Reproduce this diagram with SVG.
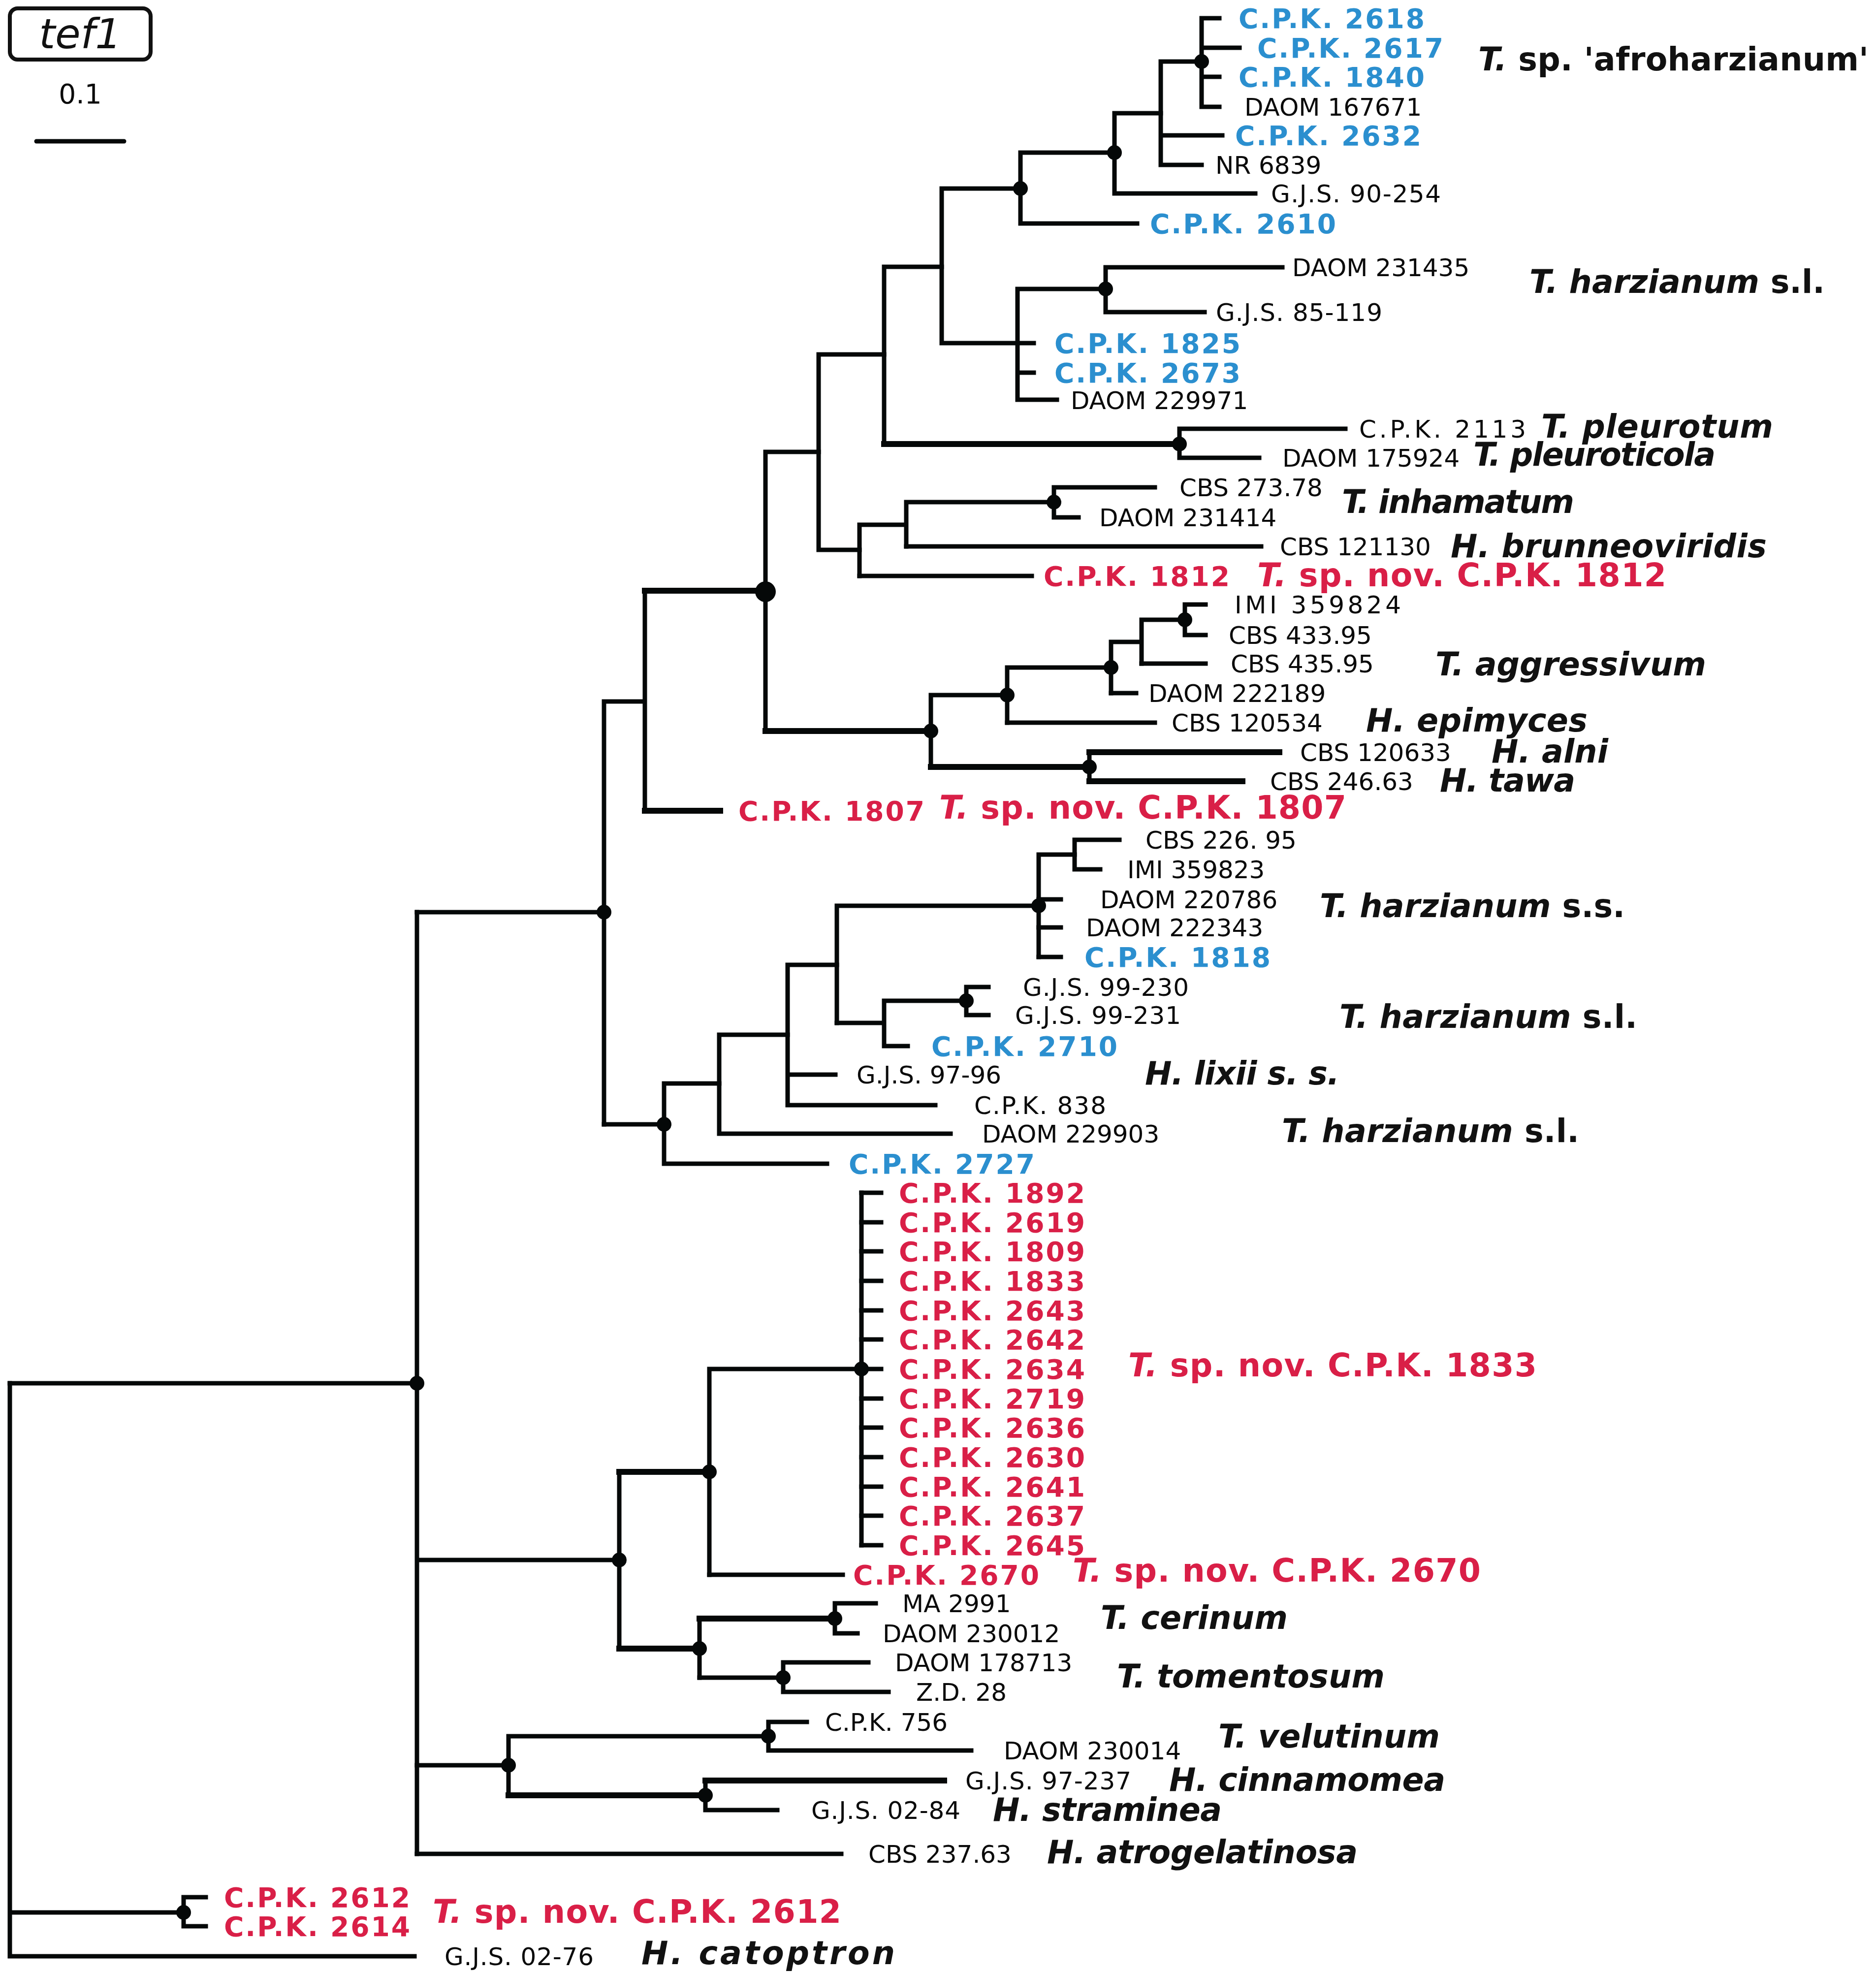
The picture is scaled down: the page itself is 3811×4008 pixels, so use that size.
<svg xmlns="http://www.w3.org/2000/svg" width="3811" height="4008" viewBox="0 0 3811 4008">
<style>
.l{fill:none;stroke:#050808;stroke-width:9;stroke-linecap:square}
.k{stroke-width:12}
.d{fill:#050808}
.n{font-family:"DejaVu Sans",Verdana,sans-serif;font-size:50px;fill:#0a0a0a}
.b{font-family:"DejaVu Sans",Verdana,sans-serif;font-size:55px;font-weight:bold;letter-spacing:3px}
.bl{fill:#2b8fcf}
.rd{fill:#d91f47}
.s{font-family:"DejaVu Sans",Verdana,sans-serif;font-size:65px;font-weight:bold;font-style:italic;fill:#111}
.u{font-style:normal}
.sr{fill:#d91f47}
</style>
<rect width="3811" height="4008" fill="#fff"/>
<g id="legend">
<rect x="20" y="17" width="286" height="104" rx="16" fill="none" stroke="#111" stroke-width="8"/>
<text x="163" y="98" text-anchor="middle" font-family="DejaVu Sans,sans-serif" font-style="italic" font-size="84" fill="#111">tef1</text>
<text x="163" y="210" text-anchor="middle" class="n" style="font-size:55px">0.1</text>
<path d="M74 287 H252" stroke="#050808" stroke-width="9" stroke-linecap="round"/>
</g>
<g id="connectors" class="l">
<path d="M2441 37 V217 M2441 37 H2477 M2441 97 H2518 M2441 156 H2477 M2441 217 H2477"/>
<path d="M2358 125 H2441 M2358 125 V335 M2358 275 H2483 M2358 335 H2441"/>
<path d="M2264 230 H2358 M2264 230 V393 M2264 393 H2550"/>
<path d="M2073 310 H2264 M2073 310 V454 M2073 454 H2310"/>
<path d="M1913 383 H2073 M1913 383 V697 M1913 697 H2100"/>
<path d="M2067 587 V812 M2067 587 H2246 M2246 543 V634 M2246 543 H2605 M2246 634 H2447 M2067 757 H2100 M2067 812 H2147"/>
<path d="M1796 542 H1913 M1796 542 V902"/>
<path class="k" d="M1796 902 H2396"/>
<path d="M2396 871 V930 M2396 871 H2733 M2396 930 H2558"/>
<path d="M1663 720 H1796 M1663 720 V1117 M1663 1117 H1746"/>
<path d="M1746 1066 V1170 M1746 1066 H1841 M1841 1020 V1110 M1841 1020 H2141"/>
<path d="M2141 990 V1051 M2141 990 H2346 M2141 1051 H2191 M1841 1110 H2562 M1746 1170 H2096"/>
<path d="M1555 918 H1663 M1555 918 V1485"/>
<path class="k" d="M1555 1485 H1891"/>
<path d="M1891 1412 V1558 M1891 1412 H2046 M2046 1356 V1468 M2046 1356 H2257"/>
<path d="M2257 1304 V1408 M2257 1304 H2319 M2319 1259 V1348 M2319 1259 H2407"/>
<path d="M2407 1228 V1290 M2407 1228 H2449 M2407 1290 H2449 M2319 1348 H2449 M2257 1408 H2308 M2046 1468 H2346"/>
<path class="k" d="M1891 1558 H2213 M2213 1528 H2599 M2213 1587 H2524"/>
<path d="M2213 1528 V1587"/>
<path class="k" d="M1310 1200 H1555 M1310 1647 H1463"/>
<path d="M1310 1200 V1647 M1227 1425 H1310 M1227 1425 V2284 M847 1853 H1227"/>
<path d="M1227 2284 H1349 M1349 2201 V2364 M1349 2364 H1680 M1349 2201 H1461"/>
<path d="M1461 2102 V2303 M1461 2303 H1931 M1461 2102 H1600"/>
<path d="M1600 1960 V2245 M1600 2245 H1900 M1600 2183 H1697 M1600 1960 H1700"/>
<path d="M1700 1840 V2078 M1700 1840 H2110 M2110 1736 V1944 M2110 1736 H2183"/>
<path d="M2183 1706 V1766 M2183 1706 H2274 M2183 1766 H2235 M2110 1827 H2155 M2110 1884 H2155 M2110 1944 H2155"/>
<path d="M1700 2078 H1796 M1796 2033 V2125 M1796 2033 H1963 M1963 2005 V2062 M1963 2005 H2008 M1963 2062 H2008 M1796 2125 H1844"/>
<path d="M847 1853 V3766 M20 2810 H847 M847 3169 H1258"/>
<path d="M1258 2990 V3349"/>
<path class="k" d="M1258 2990 H1441"/>
<path d="M1441 2781 V3199 M1441 2781 H1750 M1750 2423 V3139"/>
<path d="M1750 2423 H1790 M1750 2483 H1790 M1750 2542 H1790 M1750 2602 H1790 M1750 2662 H1790 M1750 2721 H1790 M1750 2781 H1790 M1750 2841 H1790 M1750 2900 H1790 M1750 2960 H1790 M1750 3020 H1790 M1750 3079 H1790 M1750 3139 H1790"/>
<path d="M1441 3199 H1712"/>
<path class="k" d="M1258 3349 H1421 M1421 3288 H1696"/>
<path d="M1421 3288 V3408 M1696 3257 V3318 M1696 3257 H1779 M1696 3318 H1742"/>
<path d="M1421 3408 H1591 M1591 3377 V3437 M1591 3377 H1764 M1591 3437 H1805"/>
<path d="M847 3586 H1033 M1033 3527 V3647 M1033 3527 H1561"/>
<path d="M1561 3498 V3556 M1561 3498 H1639 M1561 3556 H1973"/>
<path class="k" d="M1033 3647 H1433 M1433 3617 H1918"/>
<path d="M1433 3617 V3677 M1433 3677 H1579"/>
<path d="M847 3766 H1709"/>
<path d="M20 2810 V3974 M20 3885 H373 M373 3854 V3913 M373 3854 H418 M373 3913 H418 M20 3974 H842"/>
</g>
<g id="internal-nodes" class="d">
<circle id="n1" cx="2441" cy="125" r="15"/>
<circle id="n2" cx="2264" cy="310" r="15"/>
<circle id="n3" cx="2073" cy="383" r="15"/>
<circle id="n4" cx="2246" cy="587" r="15"/>
<circle id="n5" cx="2396" cy="902" r="15"/>
<circle id="n6" cx="2141" cy="1020" r="15"/>
<circle id="n7" cx="1555" cy="1202" r="21"/>
<circle id="n8" cx="2407" cy="1259" r="15"/>
<circle id="n9" cx="2257" cy="1356" r="15"/>
<circle id="n10" cx="2046" cy="1412" r="15"/>
<circle id="n11" cx="1891" cy="1485" r="15"/>
<circle id="n12" cx="2213" cy="1558" r="15"/>
<circle id="n13" cx="1227" cy="1853" r="15"/>
<circle id="n14" cx="2110" cy="1840" r="15"/>
<circle id="n15" cx="1963" cy="2033" r="15"/>
<circle id="n16" cx="1349" cy="2284" r="15"/>
<circle id="n17" cx="1750" cy="2781" r="15"/>
<circle id="n18" cx="1441" cy="2990" r="15"/>
<circle id="n19" cx="1258" cy="3169" r="15"/>
<circle id="n20" cx="1421" cy="3349" r="15"/>
<circle id="n21" cx="1696" cy="3288" r="15"/>
<circle id="n22" cx="1591" cy="3408" r="15"/>
<circle id="n23" cx="1033" cy="3586" r="15"/>
<circle id="n24" cx="1561" cy="3527" r="15"/>
<circle id="n25" cx="1433" cy="3647" r="15"/>
<circle id="n26" cx="847" cy="2810" r="15"/>
<circle id="n27" cx="373" cy="3885" r="15"/>
</g>
<g id="taxa">
<g id="t2618"><text class="b bl" x="2516" y="57">C.P.K. 2618</text></g>
<g id="t2617"><text class="b bl" x="2554" y="117">C.P.K. 2617</text></g>
<g id="t1840"><text class="b bl" x="2516" y="176">C.P.K. 1840</text></g>
<g id="tD167671"><text class="n" x="2528" y="235">DAOM 167671</text></g>
<g id="t2632"><text class="b bl" x="2509" y="295">C.P.K. 2632</text></g>
<g id="tNR6839"><text class="n" x="2469" y="353">NR 6839</text></g>
<g id="tG90254"><text class="n" x="2582" y="411" textLength="345">G.J.S. 90-254</text></g>
<g id="t2610"><text class="b bl" x="2336" y="474">C.P.K. 2610</text></g>
<g id="tD231435"><text class="n" x="2625" y="561">DAOM 231435</text></g>
<g id="tG85119"><text class="n" x="2470" y="652" textLength="338">G.J.S. 85-119</text></g>
<g id="t1825"><text class="b bl" x="2142" y="717">C.P.K. 1825</text></g>
<g id="t2673"><text class="b bl" x="2142" y="777">C.P.K. 2673</text></g>
<g id="tD229971"><text class="n" x="2175" y="831">DAOM 229971</text></g>
<g id="t2113"><text class="n" x="2761" y="889" textLength="339">C.P.K. 2113</text></g>
<g id="tD175924"><text class="n" x="2605" y="948">DAOM 175924</text></g>
<g id="tC27378"><text class="n" x="2396" y="1008">CBS 273.78</text></g>
<g id="tD231414"><text class="n" x="2233" y="1069">DAOM 231414</text></g>
<g id="tC121130"><text class="n" x="2600" y="1128">CBS 121130</text></g>
<g id="t1812"><text class="b rd" x="2120" y="1190">C.P.K. 1812</text></g>
<g id="tI359824"><text class="n" x="2508" y="1246" textLength="338">IMI 359824</text></g>
<g id="tC43395"><text class="n" x="2496" y="1308">CBS 433.95</text></g>
<g id="tC43595"><text class="n" x="2500" y="1366">CBS 435.95</text></g>
<g id="tD222189"><text class="n" x="2333" y="1426">DAOM 222189</text></g>
<g id="tC120534"><text class="n" x="2380" y="1486">CBS 120534</text></g>
<g id="tC120633"><text class="n" x="2641" y="1546">CBS 120633</text></g>
<g id="tC24663"><text class="n" x="2580" y="1605">CBS 246.63</text></g>
<g id="t1807"><text class="b rd" x="1500" y="1667">C.P.K. 1807</text></g>
<g id="tC22695"><text class="n" x="2327" y="1724">CBS 226. 95</text></g>
<g id="tI359823"><text class="n" x="2290" y="1784">IMI 359823</text></g>
<g id="tD220786"><text class="n" x="2235" y="1845">DAOM 220786</text></g>
<g id="tD222343"><text class="n" x="2206" y="1902">DAOM 222343</text></g>
<g id="t1818"><text class="b bl" x="2203" y="1964">C.P.K. 1818</text></g>
<g id="tG99230"><text class="n" x="2078" y="2023" textLength="337">G.J.S. 99-230</text></g>
<g id="tG99231"><text class="n" x="2062" y="2080" textLength="337">G.J.S. 99-231</text></g>
<g id="t2710"><text class="b bl" x="1892" y="2145">C.P.K. 2710</text></g>
<g id="tG9796"><text class="n" x="1740" y="2201">G.J.S. 97-96</text></g>
<g id="t838"><text class="n" x="1979" y="2263" textLength="268">C.P.K. 838</text></g>
<g id="tD229903"><text class="n" x="1995" y="2321">DAOM 229903</text></g>
<g id="t2727"><text class="b bl" x="1724" y="2384">C.P.K. 2727</text></g>
<g id="t1892"><text class="b rd" x="1826" y="2443">C.P.K. 1892</text></g>
<g id="t2619"><text class="b rd" x="1826" y="2503">C.P.K. 2619</text></g>
<g id="t1809"><text class="b rd" x="1826" y="2562">C.P.K. 1809</text></g>
<g id="t1833"><text class="b rd" x="1826" y="2622">C.P.K. 1833</text></g>
<g id="t2643"><text class="b rd" x="1826" y="2682">C.P.K. 2643</text></g>
<g id="t2642"><text class="b rd" x="1826" y="2741">C.P.K. 2642</text></g>
<g id="t2634"><text class="b rd" x="1826" y="2801">C.P.K. 2634</text></g>
<g id="t2719"><text class="b rd" x="1826" y="2861">C.P.K. 2719</text></g>
<g id="t2636"><text class="b rd" x="1826" y="2920">C.P.K. 2636</text></g>
<g id="t2630"><text class="b rd" x="1826" y="2980">C.P.K. 2630</text></g>
<g id="t2641"><text class="b rd" x="1826" y="3040">C.P.K. 2641</text></g>
<g id="t2637"><text class="b rd" x="1826" y="3099">C.P.K. 2637</text></g>
<g id="t2645"><text class="b rd" x="1826" y="3159">C.P.K. 2645</text></g>
<g id="t2670"><text class="b rd" x="1733" y="3219">C.P.K. 2670</text></g>
<g id="tMA2991"><text class="n" x="1833" y="3275">MA 2991</text></g>
<g id="tD230012"><text class="n" x="1793" y="3336">DAOM 230012</text></g>
<g id="tD178713"><text class="n" x="1818" y="3395">DAOM 178713</text></g>
<g id="tZD28"><text class="n" x="1861" y="3455">Z.D. 28</text></g>
<g id="t756"><text class="n" x="1676" y="3516">C.P.K. 756</text></g>
<g id="tD230014"><text class="n" x="2039" y="3574">DAOM 230014</text></g>
<g id="tG97237"><text class="n" x="1961" y="3635" textLength="337">G.J.S. 97-237</text></g>
<g id="tG0284"><text class="n" x="1648" y="3695" textLength="303">G.J.S. 02-84</text></g>
<g id="tC23763"><text class="n" x="1764" y="3784">CBS 237.63</text></g>
<g id="t2612"><text class="b rd" x="455" y="3874">C.P.K. 2612</text></g>
<g id="t2614"><text class="b rd" x="455" y="3933">C.P.K. 2614</text></g>
<g id="tG0276"><text class="n" x="903" y="3992" textLength="303">G.J.S. 02-76</text></g>
</g>
<g id="species">
<g id="sp-afro"><text class="s" x="3003" y="143" textLength="793">T. <tspan class="u">sp. 'afroharzianum'</tspan></text></g>
<g id="sp-harz1"><text class="s" x="3107" y="595" textLength="600">T. harzianum <tspan class="u">s.l.</tspan></text></g>
<g id="sp-pleurotum"><text class="s" x="3131" y="889" textLength="471">T. pleurotum</text></g>
<g id="sp-pleuroticola"><text class="s" x="2993" y="946" textLength="492">T. pleuroticola</text></g>
<g id="sp-inhamatum"><text class="s" x="2726" y="1042" textLength="472">T. inhamatum</text></g>
<g id="sp-brunneo"><text class="s" x="2947" y="1132" textLength="642">H. brunneoviridis</text></g>
<g id="sp-1812"><text class="s sr" x="2554" y="1191" textLength="831">T. <tspan class="u">sp. nov. C.P.K. 1812</tspan></text></g>
<g id="sp-aggr"><text class="s" x="2916" y="1372" textLength="550">T. aggressivum</text></g>
<g id="sp-epimyces"><text class="s" x="2775" y="1486" textLength="450">H. epimyces</text></g>
<g id="sp-alni"><text class="s" x="3030" y="1549" textLength="237">H. alni</text></g>
<g id="sp-tawa"><text class="s" x="2925" y="1608" textLength="275">H. tawa</text></g>
<g id="sp-1807"><text class="s sr" x="1908" y="1663" textLength="827">T. <tspan class="u">sp. nov. C.P.K. 1807</tspan></text></g>
<g id="sp-harzss"><text class="s" x="2681" y="1863" textLength="620">T. harzianum <tspan class="u">s.s.</tspan></text></g>
<g id="sp-harz2"><text class="s" x="2721" y="2088" textLength="605">T. harzianum <tspan class="u">s.l.</tspan></text></g>
<g id="sp-lixii"><text class="s" x="2326" y="2203" textLength="395">H. lixii s. s.</text></g>
<g id="sp-harz3"><text class="s" x="2604" y="2320" textLength="604">T. harzianum <tspan class="u">s.l.</tspan></text></g>
<g id="sp-1833"><text class="s sr" x="2292" y="2796" textLength="830">T. <tspan class="u">sp. nov. C.P.K. 1833</tspan></text></g>
<g id="sp-2670"><text class="s sr" x="2179" y="3213" textLength="829">T. <tspan class="u">sp. nov. C.P.K. 2670</tspan></text></g>
<g id="sp-cerinum"><text class="s" x="2236" y="3309" textLength="380">T. cerinum</text></g>
<g id="sp-tomentosum"><text class="s" x="2269" y="3428" textLength="544">T. tomentosum</text></g>
<g id="sp-velutinum"><text class="s" x="2475" y="3550" textLength="450">T. velutinum</text></g>
<g id="sp-cinnamomea"><text class="s" x="2375" y="3638" textLength="561">H. cinnamomea</text></g>
<g id="sp-straminea"><text class="s" x="2017" y="3699" textLength="465">H. straminea</text></g>
<g id="sp-atrogel"><text class="s" x="2127" y="3785" textLength="631">H. atrogelatinosa</text></g>
<g id="sp-2612"><text class="s sr" x="879" y="3906" textLength="830">T. <tspan class="u">sp. nov. C.P.K. 2612</tspan></text></g>
<g id="sp-catoptron"><text class="s" x="1303" y="3990" textLength="515">H. catoptron</text></g>
</g>
</svg>
